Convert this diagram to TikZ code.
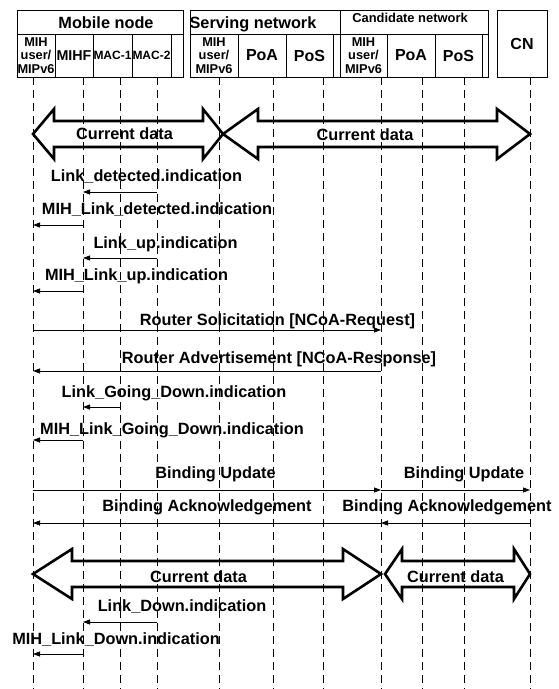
\documentclass[tikz,border=0pt]{standalone}
\usepackage{fontspec}
\setmainfont{Liberation Sans}
\usetikzlibrary{arrows.meta}

\tikzset{
  boite/.style={draw, line width=0.8pt},
  sousboite/.style={draw, line width=0.8pt, minimum height=43pt, inner sep=0pt, align=center},
  vie/.style={line width=0.9pt, dash pattern=on 8pt off 5pt},
  msg/.style={line width=0.8pt, -{Triangle[length=7pt,width=5pt]}},
  gros/.style={line width=2.6pt, line join=miter},
  txt/.style={font=\bfseries\fontsize{16.3}{18}\selectfont, inner sep=0pt, anchor=base},
  mih/.style={font=\bfseries\fontsize{12.8}{13.5}\selectfont},
  mac/.style={font=\bfseries\fontsize{12}{14}\selectfont},
}

% fleche de donnees : x1, x2, y, tete gauche, tete droite
\newcommand{\dataarrow}[5]{%
  \draw[gros] (#1,#3) -- (#1+#4,#3-25) -- (#1+#4,#3-13) -- (#2-#5,#3-13)
    -- (#2-#5,#3-25) -- (#2,#3) -- (#2-#5,#3+25) -- (#2-#5,#3+13)
    -- (#1+#4,#3+13) -- (#1+#4,#3+25) -- cycle;}

\begin{document}
\begin{tikzpicture}[x=1pt,y=-1pt]
  \useasboundingbox (0,0) rectangle (559,689);

  % Mobile node
  \draw[boite] (17,10) rectangle (183,77);
  \draw[boite] (17,34) -- (183,34);
  \node[txt] (mn) at (106,28) {Mobile node};
  \node[sousboite, mih, minimum width=38pt] (mnmih) at (36,55.5) {MIH\\user/\\MIPv6};
  \node[sousboite, minimum width=38pt, font=\bfseries\fontsize{14.3}{16}\selectfont] (mihf) at (74,55.5) {MIHF};
  \node[sousboite, mac, minimum width=39pt] (mac1) at (112.5,55.5) {MAC-1};
  \node[sousboite, mac, minimum width=39pt] (mac2) at (151.5,55.5) {MAC-2};

  % Serving network
  \draw[boite] (190,10) rectangle (340,77);
  \draw[boite] (190,34) -- (340,34);
  \node[txt] (sn) at (253,28) {Serving network};
  \node[sousboite, mih, minimum width=48pt] (snmih) at (214,55.5) {MIH\\user/\\MIPv6};
  \node[sousboite, minimum width=48pt, font=\bfseries\fontsize{16}{18}\selectfont] (snpoa) at (262,55.5) {PoA};
  \node[sousboite, minimum width=47pt, font=\bfseries\fontsize{16}{18}\selectfont] (snpos) at (309.5,55.5) {PoS};

  % Candidate network
  \draw[boite] (340,10) rectangle (488,77);
  \draw[boite] (340,34) -- (488,34);
  \node[txt, font=\bfseries\fontsize{12.9}{15}\selectfont] (cn) at (410,22.5) {Candidate network};
  \node[sousboite, mih, minimum width=47pt] (cnmih) at (363.5,55.5) {MIH\\user/\\MIPv6};
  \node[sousboite, minimum width=48pt, font=\bfseries\fontsize{16}{18}\selectfont] (cnpoa) at (411,55.5) {PoA};
  \node[sousboite, minimum width=47pt, font=\bfseries\fontsize{16}{18}\selectfont] (cnpos) at (458.5,55.5) {PoS};

  % CN
  \node[boite, minimum width=50pt, minimum height=67pt, inner sep=0pt, font=\bfseries\fontsize{16}{18}\selectfont] (corr) at (522,43.5) {CN};

  % lignes de vie
  \foreach \n/\x in {1/33, 2/83, 3/120, 4/157, 5/219, 6/273, 7/323, 8/381, 9/422, 10/464, 11/530} {
    \coordinate (l\n) at (\x,77);
    \coordinate (b\n) at (\x,689);
    \draw[vie] (l\n) -- (b\n);
  }

  % donnees courantes
  \dataarrow{33}{223}{134}{21}{20}
  \dataarrow{223}{530}{134}{35}{33}
  \node[txt] (d1) at (124.5,139) {Current data};
  \node[txt] (d2) at (365,140) {Current data};

  % rangees des messages
  \foreach \n/\y in {1/192, 2/225, 3/258, 4/291, 5/330, 6/371, 7/407, 8/440, 9/490, 10/523, 11/622, 12/654}
    \coordinate (r\n) at (0,\y);

  \node[txt] (t1) at (146.5,181) {Link\_detected.indication};
  \draw[msg] (l4 |- r1) -- (l2 |- r1);
  \node[txt] (t2) at (157,214) {MIH\_Link\_detected.indication};
  \draw[msg] (l2 |- r2) -- (l1 |- r2);
  \node[txt] (t3) at (165.5,248) {Link\_up.indication};
  \draw[msg] (l4 |- r3) -- (l2 |- r3);
  \node[txt] (t4) at (136.5,280) {MIH\_Link\_up.indication};
  \draw[msg] (l2 |- r4) -- (l1 |- r4);

  \node[txt] (t5) at (277.5,325) {Router Solicitation [NCoA-Request]};
  \draw[msg] (l1 |- r5) -- (l8 |- r5);
  \node[txt] (t6) at (279,363) {Router Advertisement [NCoA-Response]};
  \draw[msg] (l8 |- r6) -- (l1 |- r6);

  \node[txt] (t7) at (174,397) {Link\_Going\_Down.indication};
  \draw[msg] (l3 |- r7) -- (l2 |- r7);
  \node[txt] (t8) at (172,434) {MIH\_Link\_Going\_Down.indication};
  \draw[msg] (l2 |- r8) -- (l1 |- r8);

  \node[txt] (t9) at (215.5,478) {Binding Update};
  \draw[msg] (l1 |- r9) -- (l8 |- r9);
  \node[txt] (t10) at (464,478) {Binding Update};
  \draw[msg] (l8 |- r9) -- (l11 |- r9);
  \node[txt] (t11) at (207,511) {Binding Acknowledgement};
  \draw[msg] (l8 |- r10) -- (l1 |- r10);
  \node[txt] (t12) at (447,511) {Binding Acknowledgement};
  \draw[msg] (l11 |- r10) -- (l8 |- r10);

  % donnees courantes (nouveau reseau)
  \dataarrow{33}{381}{574}{39}{38}
  \dataarrow{385}{530}{574}{17}{16}
  \node[txt] (d3) at (198.5,582) {Current data};
  \node[txt] (d4) at (455.5,582) {Current data};

  \node[txt] (t13) at (182,611) {Link\_Down.indication};
  \draw[msg] (l4 |- r11) -- (l2 |- r11);
  \node[txt] (t14) at (116,644) {MIH\_Link\_Down.indication};
  \draw[msg] (l2 |- r12) -- (l1 |- r12);
\end{tikzpicture}
\end{document}
